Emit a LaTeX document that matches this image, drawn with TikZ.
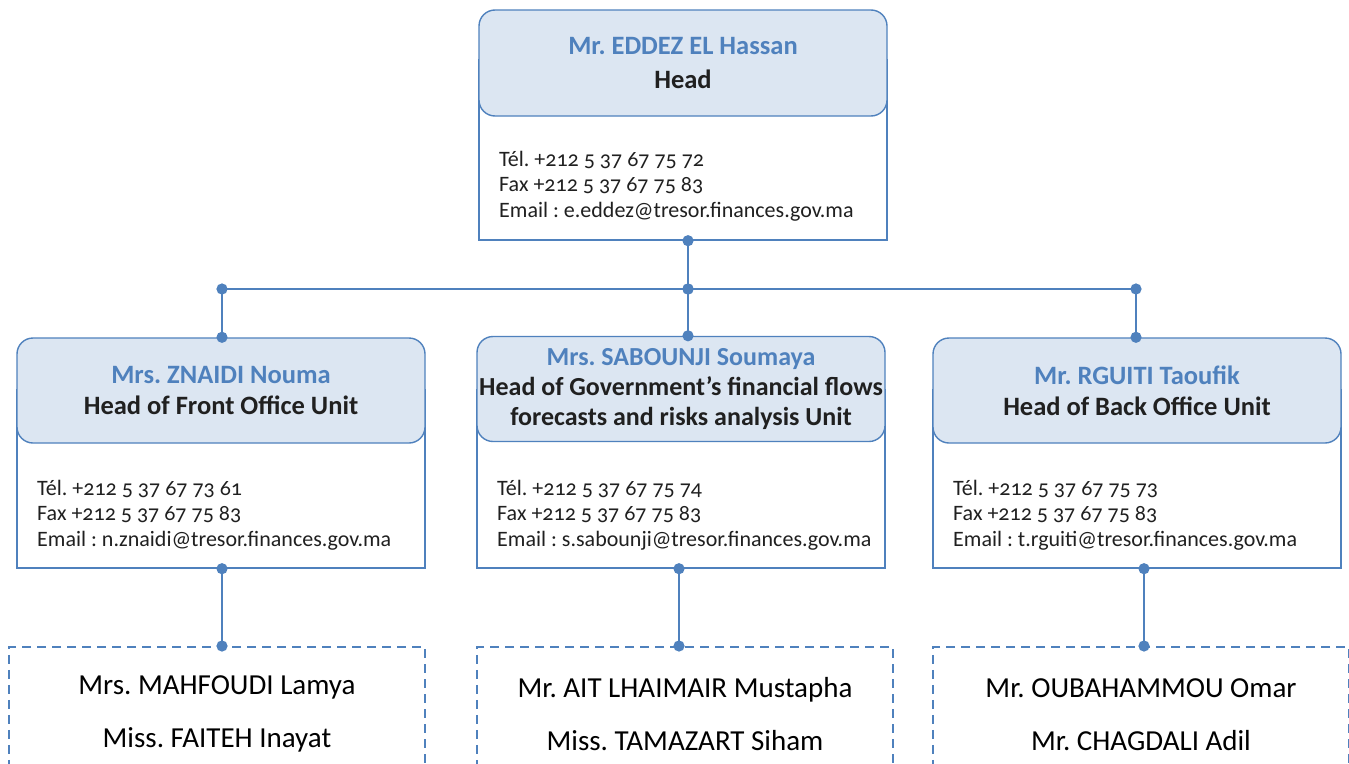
\documentclass[tikz,border=0pt]{standalone}
\usepackage{fontspec}
\setmainfont{Carlito}
\newfontfamily\infofont[Numbers=OldStyle]{Carlito}
\usepackage{xcolor}
\usepackage{tikz}
\usetikzlibrary{arrows.meta, positioning}

\definecolor{cardblue}{HTML}{4F81BD}
\definecolor{headfill}{HTML}{DCE6F2}
\definecolor{inktext}{HTML}{202020}
\frenchspacing

\begin{document}
\begin{tikzpicture}[
    x=1pt, y=1pt,
    card/.style={rectangle, draw=cardblue, line width=1.4pt, fill=white, minimum width=408pt, inner sep=0pt},
    header/.style={rectangle, rounded corners=16pt, draw=cardblue, line width=1.4pt, fill=headfill, minimum width=408pt, minimum height=105pt, align=center, inner sep=0pt, text=inktext, font=\fontsize{26.5}{31}\selectfont\bfseries},
    info/.style={anchor=west, align=left, inner sep=0pt, text=inktext, font=\infofont\fontsize{22}{25.5}\selectfont},
    staff/.style={rectangle, draw=cardblue, line width=1.8pt, dash pattern=on 9pt off 6pt, minimum width=416pt, minimum height=135pt, anchor=north, align=center, inner sep=0pt, font=\fontsize{29}{53}\selectfont},
    link/.style={draw=cardblue, line width=2.8pt, {Circle[length=11pt]}-{Circle[length=11pt]}, shorten <=-5.5pt, shorten >=-5.5pt},
    bar/.style={draw=cardblue, line width=2pt}
]
\useasboundingbox (0,0) rectangle (1349,-763);

% head of the department
\node[card, minimum height=180pt] (head-card) at (683,-150) {};
\node[header, minimum height=106pt, font=\fontsize{26.5}{34}\selectfont\bfseries] (head-top) at (683,-63) {\textcolor{cardblue}{Mr. EDDEZ EL Hassan}\\Head};
\node[info] (head-info) at (499,-186) {Tél. +212 5 37 67 75 72\\Fax +212 5 37 67 75 83\\Email : e.eddez@tresor.finances.gov.ma};

% unit heads
\node[card, minimum height=178pt] (front-card) at (221,-479) {};
\node[header] (front-top) at (221,-390.5) {\textcolor{cardblue}{Mrs. ZNAIDI Nouma}\\Head of Front Office Unit};
\node[info] (front-info) at (37,-515) {Tél. +212 5 37 67 73 61\\Fax +212 5 37 67 75 83\\Email : n.znaidi@tresor.finances.gov.ma};

\node[card, minimum height=178pt] (gov-card) at (681,-479) {};
\node[header, font=\fontsize{26}{30}\selectfont\bfseries] (gov-top) at (681,-389) {\textcolor{cardblue}{Mrs. SABOUNJI Soumaya}\\Head of Government’s financial flows\\forecasts and risks analysis Unit};
\node[info] (gov-info) at (497,-515) {Tél. +212 5 37 67 75 74\\Fax +212 5 37 67 75 83\\Email : s.sabounji@tresor.finances.gov.ma};

\node[card, minimum height=178pt] (back-card) at (1137,-479) {};
\node[header] (back-top) at (1137,-390.5) {\textcolor{cardblue}{Mr. RGUITI Taoufik}\\Head of Back Office Unit};
\node[info] (back-info) at (953,-515) {Tél. +212 5 37 67 75 73\\Fax +212 5 37 67 75 83\\Email : t.rguiti@tresor.finances.gov.ma};

% staff of each unit
\node[staff] (front-staff) at (217,-646) {Mrs. MAHFOUDI Lamya\\Miss. FAITEH Inayat};
\node[staff] (gov-staff) at (685,-646) {Mr. AIT LHAIMAIR Mustapha\\Miss. TAMAZART Siham};
\node[staff] (back-staff) at (1141,-646) {Mr. OUBAHAMMOU Omar\\Mr. CHAGDALI Adil};

% connectors
\coordinate (hub) at (688,-289);
\coordinate (left-end) at (222,-289);
\coordinate (right-end) at (1136,-289);

\draw[bar] (left-end) -- (right-end);
\draw[link] (head-card.south -| hub) -- (hub);
\draw[link] (left-end) -- (left-end |- front-top.north);
\draw[link] (hub) -- (hub |- gov-top.north);
\draw[link] (right-end) -- (right-end |- back-top.north);

\draw[link] ([xshift=1pt]front-card.south) -- ([xshift=1pt]front-card.south |- front-staff.north);
\draw[link] ([xshift=-2pt]gov-card.south) -- ([xshift=-2pt]gov-card.south |- gov-staff.north);
\draw[link] ([xshift=7pt]back-card.south) -- ([xshift=7pt]back-card.south |- back-staff.north);

\end{tikzpicture}
\end{document}
